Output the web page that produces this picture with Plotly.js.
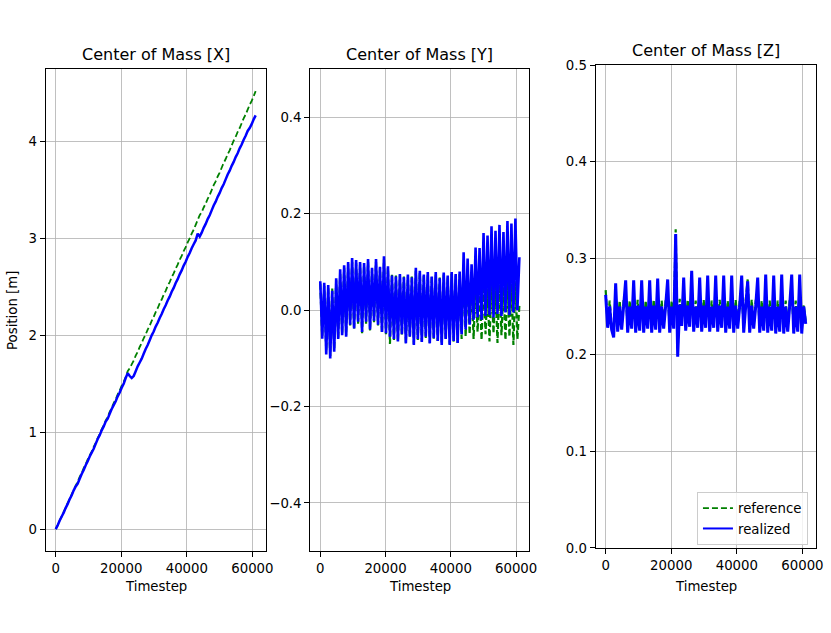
<!DOCTYPE html>
<html>
<head>
<meta charset="utf-8">
<script src="https://cdn.plot.ly/plotly-3.0.1.min.js"></script>
<style>
  html, body { margin: 0; padding: 0; background: #fff; }
  #plot { width: 831px; height: 633px; }
</style>
</head>
<body>
<div id="plot"></div>
<script>
// timesteps shared by every series
const timestep = [
  0, 610, 1220, 1830, 2440, 3050, 3660, 4270, 4880, 5490,
  6100, 6710, 7320, 7930, 8540, 9150, 9760, 10370, 10980, 11590,
  12200, 12810, 13420, 14030, 14640, 15250, 15860, 16470, 17080, 17690,
  18300, 18910, 19520, 20130, 20740, 21350, 21960, 22570, 23180, 23790,
  24400, 25010, 25620, 26230, 26840, 27450, 28060, 28670, 29280, 29890,
  30500, 31110, 31720, 32330, 32940, 33550, 34160, 34770, 35380, 35990,
  36600, 37210, 37820, 38430, 39040, 39650, 40260, 40870, 41480, 42090,
  42700, 43310, 43920, 44530, 45140, 45750, 46360, 46970, 47580, 48190,
  48800, 49410, 50020, 50630, 51240, 51850, 52460, 53070, 53680, 54290,
  54900, 55510, 56120, 56730, 57340, 57950, 58560, 59170, 59780, 60390,
  61000
];

// Center of Mass [X]
const comXRef = [
  0.00, 0.04, 0.09, 0.13, 0.18, 0.22, 0.27, 0.31, 0.36, 0.40,
  0.45, 0.49, 0.54, 0.58, 0.63, 0.67, 0.72, 0.76, 0.80, 0.85,
  0.89, 0.94, 0.98, 1.03, 1.07, 1.12, 1.16, 1.21, 1.25, 1.30,
  1.34, 1.39, 1.43, 1.48, 1.52, 1.57, 1.63, 1.66, 1.70, 1.74,
  1.79, 1.83, 1.88, 1.92, 1.97, 2.01, 2.06, 2.10, 2.15, 2.19,
  2.24, 2.28, 2.33, 2.37, 2.42, 2.46, 2.51, 2.55, 2.60, 2.64,
  2.69, 2.73, 2.78, 2.82, 2.87, 2.91, 2.96, 3.00, 3.05, 3.09,
  3.14, 3.19, 3.24, 3.27, 3.32, 3.36, 3.41, 3.45, 3.50, 3.55,
  3.59, 3.64, 3.68, 3.73, 3.78, 3.82, 3.87, 3.91, 3.96, 4.01,
  4.05, 4.10, 4.14, 4.19, 4.24, 4.28, 4.33, 4.38, 4.42, 4.47,
  4.52
];
const comXReal = [
  0.00, 0.04, 0.09, 0.13, 0.17, 0.22, 0.26, 0.31, 0.35, 0.40,
  0.44, 0.47, 0.52, 0.57, 0.61, 0.66, 0.70, 0.75, 0.79, 0.83,
  0.88, 0.93, 0.97, 1.02, 1.06, 1.11, 1.14, 1.19, 1.24, 1.28,
  1.32, 1.37, 1.41, 1.46, 1.50, 1.56, 1.61, 1.58, 1.56, 1.58,
  1.63, 1.68, 1.72, 1.76, 1.81, 1.86, 1.90, 1.95, 2.00, 2.04,
  2.09, 2.13, 2.18, 2.22, 2.27, 2.31, 2.36, 2.40, 2.45, 2.49,
  2.54, 2.58, 2.63, 2.67, 2.72, 2.76, 2.81, 2.85, 2.90, 2.94,
  2.98, 3.05, 3.02, 3.06, 3.11, 3.15, 3.20, 3.24, 3.29, 3.34,
  3.38, 3.43, 3.47, 3.52, 3.56, 3.61, 3.66, 3.70, 3.75, 3.79,
  3.84, 3.88, 3.93, 3.97, 4.02, 4.06, 4.11, 4.14, 4.18, 4.23,
  4.27
];

// Center of Mass [Y]
const comYRef = [
  0.055, -0.055, 0.050, -0.085, 0.048, -0.095, 0.045, -0.082, 0.062, -0.058,
  0.075, -0.050, 0.088, -0.052, 0.095, -0.032, 0.100, -0.040, 0.098, -0.028,
  0.095, -0.048, 0.092, -0.028, 0.100, -0.042, 0.085, -0.025, 0.100, -0.032,
  0.088, -0.048, 0.105, -0.050, 0.088, -0.070, 0.075, -0.062, 0.072, -0.065,
  0.072, -0.052, 0.070, -0.068, 0.070, -0.057, 0.072, -0.070, 0.082, -0.062,
  0.078, -0.065, 0.072, -0.058, 0.074, -0.068, 0.070, -0.060, 0.075, -0.064,
  0.068, -0.070, 0.074, -0.062, 0.070, -0.070, 0.075, -0.066, 0.072, -0.068,
  0.075, -0.060, 0.085, -0.055, 0.070, -0.050, 0.055, -0.060, 0.060, -0.045,
  0.050, -0.062, 0.062, -0.050, 0.045, -0.065, 0.060, -0.048, 0.050, -0.068,
  0.063, -0.052, 0.048, -0.062, 0.062, -0.055, 0.055, -0.072, 0.060, -0.060,
  0.010
];
const comYReal = [
  0.060, -0.059, 0.057, -0.092, 0.052, -0.100, 0.040, -0.086, 0.066, -0.060,
  0.085, -0.052, 0.093, -0.055, 0.100, -0.030, 0.108, -0.038, 0.104, -0.024,
  0.100, -0.045, 0.098, -0.024, 0.106, -0.040, 0.088, -0.022, 0.106, -0.030,
  0.090, -0.045, 0.112, -0.048, 0.091, -0.055, 0.072, -0.060, 0.070, -0.065,
  0.075, -0.050, 0.068, -0.069, 0.074, -0.055, 0.068, -0.072, 0.088, -0.060,
  0.082, -0.066, 0.074, -0.055, 0.079, -0.069, 0.070, -0.058, 0.079, -0.064,
  0.066, -0.072, 0.078, -0.060, 0.072, -0.072, 0.079, -0.064, 0.075, -0.068,
  0.080, -0.050, 0.120, -0.040, 0.107, -0.030, 0.095, -0.020, 0.130, -0.015,
  0.129, -0.020, 0.160, -0.012, 0.155, -0.010, 0.174, -0.015, 0.165, -0.008,
  0.177, -0.012, 0.162, -0.005, 0.185, -0.010, 0.180, -0.005, 0.190, 0.000,
  0.110
];

// Center of Mass [Z]
const comZRef = [
  0.267, 0.231, 0.256, 0.229, 0.222, 0.262, 0.230, 0.256, 0.229, 0.257,
  0.262, 0.229, 0.256, 0.230, 0.262, 0.229, 0.257, 0.228, 0.262, 0.229,
  0.256, 0.230, 0.262, 0.228, 0.257, 0.229, 0.263, 0.229, 0.256, 0.230,
  0.257, 0.262, 0.229, 0.256, 0.230, 0.330, 0.205, 0.258, 0.232, 0.263,
  0.231, 0.257, 0.232, 0.264, 0.230, 0.256, 0.231, 0.263, 0.230, 0.257,
  0.231, 0.263, 0.230, 0.256, 0.231, 0.263, 0.230, 0.257, 0.231, 0.263,
  0.229, 0.256, 0.230, 0.263, 0.229, 0.257, 0.230, 0.256, 0.263, 0.229,
  0.256, 0.278, 0.229, 0.257, 0.230, 0.256, 0.263, 0.229, 0.256, 0.228,
  0.263, 0.229, 0.256, 0.228, 0.263, 0.228, 0.256, 0.227, 0.263, 0.228,
  0.256, 0.227, 0.257, 0.263, 0.227, 0.256, 0.227, 0.263, 0.228, 0.252,
  0.235
];
const comZReal = [
  0.262, 0.228, 0.250, 0.226, 0.218, 0.274, 0.224, 0.250, 0.226, 0.251,
  0.277, 0.223, 0.250, 0.227, 0.277, 0.223, 0.251, 0.225, 0.277, 0.223,
  0.250, 0.227, 0.277, 0.223, 0.251, 0.226, 0.279, 0.223, 0.250, 0.227,
  0.251, 0.278, 0.223, 0.250, 0.227, 0.325, 0.198, 0.252, 0.230, 0.280,
  0.225, 0.251, 0.229, 0.287, 0.224, 0.250, 0.228, 0.280, 0.224, 0.251,
  0.228, 0.282, 0.224, 0.250, 0.228, 0.282, 0.224, 0.251, 0.228, 0.282,
  0.223, 0.250, 0.227, 0.282, 0.223, 0.251, 0.227, 0.250, 0.282, 0.223,
  0.250, 0.276, 0.223, 0.251, 0.227, 0.250, 0.280, 0.223, 0.250, 0.225,
  0.283, 0.223, 0.250, 0.225, 0.282, 0.222, 0.250, 0.224, 0.283, 0.222,
  0.250, 0.224, 0.251, 0.283, 0.222, 0.250, 0.224, 0.283, 0.222, 0.250,
  0.232
];

const xTickVals = [0, 20000, 40000, 60000];
const xTickText = ["0", "20000", "40000", "60000"];
const yTickValsX = [0, 1, 2, 3, 4];
const yTickTextX = ["0", "1", "2", "3", "4"];
const yTickValsY = [-0.4, -0.2, 0.0, 0.2, 0.4];
const yTickTextY = ["\u22120.4", "\u22120.2", "0.0", "0.2", "0.4"];
const yTickValsZ = [0.0, 0.1, 0.2, 0.3, 0.4, 0.5];
const yTickTextZ = ["0.0", "0.1", "0.2", "0.3", "0.4", "0.5"];

const FONT = "DejaVu Sans, sans-serif";
const GREEN = "#008000";
const BLUE = "#0000ff";

function refTrace(y, xa, ya, width) {
  return {
    x: timestep, y: y, xaxis: xa, yaxis: ya,
    type: "scatter", mode: "lines", name: "reference",
    line: { color: GREEN, width: width, dash: "6px,3px", simplify: false },
    showlegend: false,
  };
}
function realTrace(y, xa, ya, width) {
  return {
    x: timestep, y: y, xaxis: xa, yaxis: ya,
    type: "scatter", mode: "lines", name: "realized",
    line: { color: BLUE, width: width, simplify: false },
    showlegend: false,
  };
}

const data = [
  refTrace(comXRef, "x", "y", 1.8),
  realTrace(comXReal, "x", "y", 2.5),
  refTrace(comYRef, "x2", "y2", 2.2),
  realTrace(comYReal, "x2", "y2", 2.6),
  refTrace(comZRef, "x3", "y3", 2.2),
  realTrace(comZReal, "x3", "y3", 3),
  // legend entries only, with the plain line width
  { x: [null], y: [null], xaxis: "x3", yaxis: "y3", type: "scatter", mode: "lines",
    name: "reference", line: { color: GREEN, width: 1.8, dash: "6px,3px" } },
  { x: [null], y: [null], xaxis: "x3", yaxis: "y3", type: "scatter", mode: "lines",
    name: "realized", line: { color: BLUE, width: 2 } },
];

function xAxis(domain, anchor) {
  return {
    domain: domain, anchor: anchor, range: [-3050, 64050],
    tickvals: xTickVals, ticktext: xTickText,
    ticks: "outside", ticklen: 5, tickwidth: 1, tickcolor: "#000",
    showline: true, mirror: true, linecolor: "#000", linewidth: 1.1,
    showgrid: true, gridcolor: "#b0b0b0", gridwidth: 0.8, zeroline: false,
    tickfont: { family: FONT, size: 13.3, color: "#000" },
  };
}
function yAxis(domain, anchor, range, vals, text) {
  return {
    domain: domain, anchor: anchor, range: range,
    tickvals: vals, ticktext: text,
    ticks: "outside", ticklen: 5, tickwidth: 1, tickcolor: "#000",
    showline: true, mirror: true, linecolor: "#000", linewidth: 1.1,
    showgrid: true, gridcolor: "#b0b0b0", gridwidth: 0.8, zeroline: false,
    tickfont: { family: FONT, size: 13.3, color: "#000" },
  };
}

const dX = [0.0550, 0.3197];
const dY = [0.3734, 0.6370];
const dZ = [0.7168, 0.9816];
const vXY = [0.1295, 0.8905];
const vZ = [0.1343, 0.8973];

function title(text, dom, top) {
  return {
    text: text, xref: "paper", yref: "paper",
    x: (dom[0] + dom[1]) / 2, y: top, xanchor: "center", yanchor: "bottom",
    yshift: 3, showarrow: false,
    font: { family: FONT, size: 16, color: "#000" },
  };
}
function xLabel(dom) {
  return {
    text: "Timestep", xref: "paper", yref: "paper",
    x: (dom[0] + dom[1]) / 2, y: 0.0727, xanchor: "center", yanchor: "middle",
    showarrow: false, font: { family: FONT, size: 13.3, color: "#000" },
  };
}

const layout = {
  width: 831, height: 633,
  margin: { l: 0, r: 0, t: 0, b: 0 },
  paper_bgcolor: "#fff", plot_bgcolor: "#fff",
  font: { family: FONT, size: 13.3, color: "#000" },
  xaxis: xAxis(dX, "y"),
  yaxis: yAxis(vXY, "x", [-0.226, 4.746], yTickValsX, yTickTextX),
  xaxis2: xAxis(dY, "y2"),
  yaxis2: yAxis(vXY, "x2", [-0.5, 0.5], yTickValsY, yTickTextY),
  xaxis3: xAxis(dZ, "y3"),
  yaxis3: yAxis(vZ, "x3", [0, 0.5], yTickValsZ, yTickTextZ),
  annotations: [
    title("Center of Mass [X]", dX, vXY[1]),
    title("Center of Mass [Y]", dY, vXY[1]),
    title("Center of Mass [Z]", dZ, vZ[1]),
    xLabel(dX), xLabel(dY), xLabel(dZ),
    {
      text: "Position [m]", xref: "paper", yref: "paper",
      x: 0.0156, y: 0.5103, xanchor: "center", yanchor: "middle",
      textangle: -90, showarrow: false,
      font: { family: FONT, size: 13.3, color: "#000" },
    },
  ],
  showlegend: true,
  legend: {
    x: 0.8387, y: 0.2227, xanchor: "left", yanchor: "top",
    bgcolor: "rgba(255,255,255,0.8)", bordercolor: "#cccccc", borderwidth: 1,
    font: { family: FONT, size: 13.3, color: "#000" },
    tracegroupgap: 0,
  },
};

Plotly.newPlot("plot", data, layout, { displayModeBar: false, staticPlot: true });
</script>
</body>
</html>
